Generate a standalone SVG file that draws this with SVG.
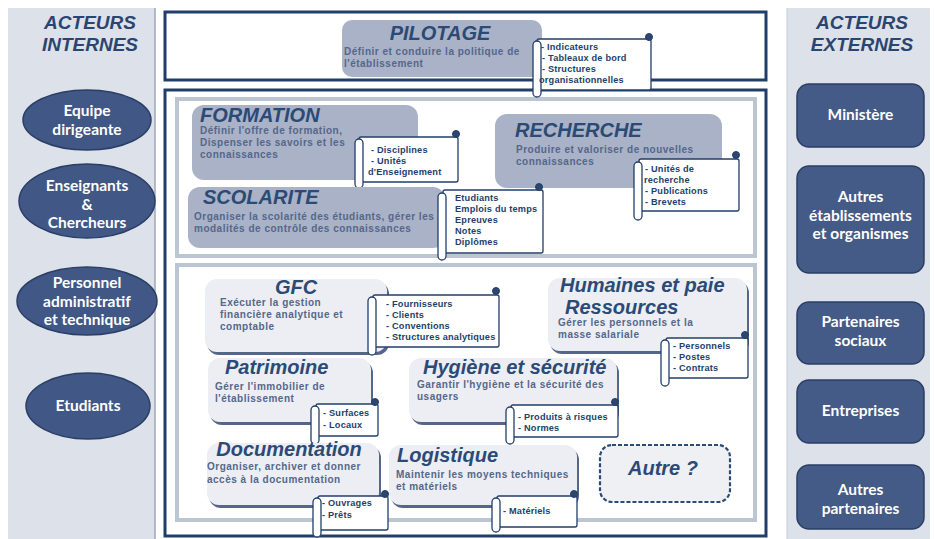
<svg xmlns="http://www.w3.org/2000/svg" width="934" height="539" viewBox="0 0 934 539">
<style>
.panel{fill:#dde1ea}
.actor-t{font-family:"Liberation Sans",Arial,sans-serif;font-weight:bold;font-style:italic;font-size:19px;fill:#2a4670;text-anchor:middle}
.oval{fill:#415785;stroke:#2b3e66;stroke-width:1.5}
.ebox{fill:#445a87;stroke:#2b3e66;stroke-width:1.5}
.wl{font-family:Lato,"Open Sans",sans-serif;font-weight:bold;font-size:15.5px;fill:#ffffff;text-anchor:middle}
.frame{fill:#ffffff;stroke:#203e68;stroke-width:3}
.sect{fill:#ffffff;stroke:#bcc6d3;stroke-width:4}
.up{fill:#a9b2c7}
.low{fill:#eceef3}
.shd{fill:#56668a}
.ttl{font-family:"Liberation Sans",Arial,sans-serif;font-weight:bold;font-style:italic;font-size:20px;fill:#2b4a76}
.bt{font-family:"Liberation Sans",Arial,sans-serif;font-weight:bold;font-size:10px;letter-spacing:0.5px;fill:#55678a}
.scr{fill:#ffffff;stroke:#233f69;stroke-width:1.3}
.curl{fill:#2d4670;stroke:#233f69;stroke-width:1}
.st{font-family:"Liberation Sans",Arial,sans-serif;font-weight:bold;font-size:9.2px;letter-spacing:0.2px;fill:#243f6a}
.dash{fill:#eef0f4;stroke:#2b4a76;stroke-width:2.2;stroke-dasharray:4 2}
</style>

<!-- side panels -->
<rect class="panel" x="8" y="8" width="147" height="531"/>
<line x1="155" y1="8" x2="155" y2="539" stroke="#9ea9bb" stroke-width="1.5"/>
<rect class="panel" x="787" y="8" width="143" height="531"/>
<line x1="787" y1="8" x2="787" y2="539" stroke="#c4cad6" stroke-width="1"/>

<text class="actor-t" x="90" y="29">ACTEURS</text>
<text class="actor-t" x="90" y="51">INTERNES</text>
<text class="actor-t" x="862" y="29">ACTEURS</text>
<text class="actor-t" x="862" y="51">EXTERNES</text>

<g id="equipe-dirigeante">
<ellipse class="oval" cx="87" cy="120" rx="64" ry="30"/>
<text class="wl" x="87" y="116">Equipe</text>
<text class="wl" x="87" y="134.6">dirigeante</text>
</g>
<g id="enseignants-chercheurs">
<ellipse class="oval" cx="87" cy="201" rx="68" ry="37"/>
<text class="wl" x="87" y="191">Enseignants</text>
<text class="wl" x="87" y="209.6">&amp;</text>
<text class="wl" x="87" y="228.2">Chercheurs</text>
</g>
<g id="personnel-admin">
<ellipse class="oval" cx="87" cy="301" rx="70" ry="34"/>
<text class="wl" x="87" y="288">Personnel</text>
<text class="wl" x="87" y="306.6">administratif</text>
<text class="wl" x="87" y="325.2">et technique</text>
</g>
<g id="etudiants">
<ellipse class="oval" cx="88" cy="406" rx="62" ry="33"/>
<text class="wl" x="88" y="411">Etudiants</text>
</g>

<g id="ministere">
<rect class="ebox" x="797" y="84" width="127" height="63" rx="12"/>
<text class="wl" x="860.5" y="120">Ministère</text>
</g>
<g id="autres-etablissements">
<rect class="ebox" x="797" y="166" width="127" height="107" rx="12"/>
<text class="wl" x="860.5" y="202">Autres</text>
<text class="wl" x="860.5" y="220.6">établissements</text>
<text class="wl" x="860.5" y="239.2">et organismes</text>
</g>
<g id="partenaires-sociaux">
<rect class="ebox" x="797" y="302" width="127" height="62" rx="12"/>
<text class="wl" x="860.5" y="327">Partenaires</text>
<text class="wl" x="860.5" y="345.6">sociaux</text>
</g>
<g id="entreprises">
<rect class="ebox" x="797" y="380" width="127" height="63" rx="12"/>
<text class="wl" x="860.5" y="416">Entreprises</text>
</g>
<g id="autres-partenaires">
<rect class="ebox" x="797" y="465" width="127" height="64" rx="12"/>
<text class="wl" x="860.5" y="495">Autres</text>
<text class="wl" x="860.5" y="513.6">partenaires</text>
</g>

<!-- frames -->
<rect class="frame" x="165" y="12" width="601" height="68"/>
<rect class="frame" x="165" y="90" width="601" height="446"/>
<rect class="sect" x="177" y="99" width="578" height="157"/>
<rect class="sect" x="177" y="265" width="578" height="255"/>

<g id="pilotage">
<rect class="up" x="342" y="20" width="200" height="57" rx="10"/>
<text class="ttl" x="440" y="40" text-anchor="middle">PILOTAGE</text>
<text class="bt" x="344" y="55" letter-spacing="0.45">Définir et conduire la politique de</text>
<text class="bt" x="344" y="67" letter-spacing="0.45">l'établissement</text>
<rect class="scr" x="537" y="39" width="114" height="51" rx="2"/>
<rect class="scr" x="533" y="41" width="8" height="56" rx="4"/>
<circle class="curl" cx="649" cy="37" r="3.5"/>
<text class="st" x="541" y="50">- Indicateurs</text>
<text class="st" x="542" y="61">- Tableaux de bord</text>
<text class="st" x="542" y="72">- Structures</text>
<text class="st" x="539" y="83">organisationnelles</text>
</g>

<g id="formation">
<rect class="up" x="192" y="105" width="226" height="75" rx="12"/>
<text class="ttl" x="200" y="122">FORMATION</text>
<text class="bt" x="200" y="134" letter-spacing="0.3">Définir l'offre de formation,</text>
<text class="bt" x="200" y="146" letter-spacing="0.3">Dispenser les savoirs et les</text>
<text class="bt" x="200" y="158" letter-spacing="0.3">connaissances</text>
<rect class="scr" x="359" y="137" width="99" height="45" rx="2"/>
<rect class="scr" x="355" y="139" width="8" height="49" rx="4"/>
<circle class="curl" cx="456" cy="134" r="3.5"/>
<text class="st" x="371" y="153">- Disciplines</text>
<text class="st" x="371" y="164">- Unités</text>
<text class="st" x="368" y="175">d'Enseignement</text>
</g>

<g id="recherche">
<rect class="up" x="495" y="114" width="227" height="74" rx="12"/>
<text class="ttl" x="515" y="137">RECHERCHE</text>
<text class="bt" x="516" y="153" font-size="11" letter-spacing="0.9">Produire et valoriser de nouvelles</text>
<text class="bt" x="516" y="165" font-size="11" letter-spacing="0.9">connaissances</text>
<rect class="scr" x="639" y="159" width="100" height="52" rx="2"/>
<rect class="scr" x="634" y="162" width="8" height="58" rx="4"/>
<circle class="curl" cx="736" cy="155" r="3.5"/>
<text class="st" x="645" y="172">- Unités de</text>
<text class="st" x="644" y="183">recherche</text>
<text class="st" x="645" y="194">- Publications</text>
<text class="st" x="645" y="205">- Brevets</text>
</g>

<g id="scolarite">
<rect class="up" x="188" y="187" width="257" height="61" rx="12"/>
<text class="ttl" x="203" y="204">SCOLARITE</text>
<text class="bt" x="194" y="220" letter-spacing="0.45">Organiser la scolarité des étudiants, gérer les</text>
<text class="bt" x="194" y="232" letter-spacing="0.45">modalités de contrôle des connaissances</text>
<rect class="scr" x="443" y="190" width="100" height="63" rx="2"/>
<rect class="scr" x="438" y="193" width="8" height="67" rx="4"/>
<circle class="curl" cx="539" cy="187" r="3.5"/>
<text class="st" x="455" y="201">Etudiants</text>
<text class="st" x="455" y="212">Emplois du temps</text>
<text class="st" x="455" y="223">Epreuves</text>
<text class="st" x="455" y="234">Notes</text>
<text class="st" x="455" y="245">Diplômes</text>
</g>

<g id="gfc">
<rect class="shd" x="207" y="282" width="182" height="73" rx="12"/>
<rect class="low" x="205" y="279" width="182" height="73" rx="12"/>
<text class="ttl" x="296" y="294" text-anchor="middle" font-size="21">GFC</text>
<text class="bt" x="220" y="306">Exécuter la gestion</text>
<text class="bt" x="220" y="318">financière analytique et</text>
<text class="bt" x="220" y="330">comptable</text>
<rect class="scr" x="373" y="295" width="126" height="52" rx="2"/>
<rect class="scr" x="368" y="297" width="8" height="58" rx="4"/>
<circle class="curl" cx="496" cy="291" r="3.5"/>
<text class="st" x="386" y="307">- Fournisseurs</text>
<text class="st" x="386" y="318">- Clients</text>
<text class="st" x="386" y="329">- Conventions</text>
<text class="st" x="386" y="340">- Structures analytiques</text>
</g>

<g id="ressources-humaines">
<rect class="shd" x="550" y="281" width="199" height="73" rx="12"/>
<rect class="low" x="548" y="278" width="199" height="73" rx="12"/>
<text class="ttl" x="560" y="292" font-size="18.5">Humaines et paie</text>
<text class="ttl" x="565" y="313.5" font-size="18.5">Ressources</text>
<text class="bt" x="558" y="326">Gérer les personnels et la</text>
<text class="bt" x="558" y="338">masse salariale</text>
<rect class="scr" x="666" y="338" width="82" height="40" rx="2"/>
<rect class="scr" x="661" y="340" width="8" height="46" rx="4"/>
<circle class="curl" cx="745" cy="335" r="3.5"/>
<text class="st" x="673" y="349">- Personnels</text>
<text class="st" x="673" y="360">- Postes</text>
<text class="st" x="673" y="371">- Contrats</text>
</g>

<g id="patrimoine">
<rect class="shd" x="210" y="361" width="163" height="64" rx="12"/>
<rect class="low" x="208" y="358" width="163" height="64" rx="12"/>
<text class="ttl" x="225" y="374" font-size="19.5">Patrimoine</text>
<text class="bt" x="215" y="390">Gérer l'immobilier de</text>
<text class="bt" x="215" y="402">l'établissement</text>
<rect class="scr" x="316" y="404" width="62" height="32" rx="2"/>
<rect class="scr" x="311" y="406" width="8" height="38" rx="4"/>
<circle class="curl" cx="375" cy="402" r="3.5"/>
<text class="st" x="323" y="416">- Surfaces</text>
<text class="st" x="323" y="428">- Locaux</text>
</g>

<g id="hygiene-securite">
<rect class="shd" x="411" y="361" width="208" height="64" rx="12"/>
<rect class="low" x="409" y="358" width="208" height="64" rx="12"/>
<text class="ttl" x="423" y="374" font-size="19.5">Hygiène et sécurité</text>
<text class="bt" x="417" y="388" letter-spacing="0.45">Garantir l'hygiène et la sécurité des</text>
<text class="bt" x="417" y="400" letter-spacing="0.45">usagers</text>
<rect class="scr" x="511" y="405" width="107" height="32" rx="2"/>
<rect class="scr" x="506" y="407" width="8" height="37" rx="4"/>
<circle class="curl" cx="615" cy="402" r="3.5"/>
<text class="st" x="518" y="420">- Produits à risques</text>
<text class="st" x="518" y="431">- Normes</text>
</g>

<g id="documentation">
<rect class="shd" x="209" y="446" width="172" height="62" rx="12"/>
<rect class="low" x="207" y="443" width="172" height="62" rx="12"/>
<text class="ttl" x="289" y="456" text-anchor="middle" font-size="19.5">Documentation</text>
<text class="bt" x="207" y="470" letter-spacing="0.45">Organiser, archiver et donner</text>
<text class="bt" x="207" y="483" letter-spacing="0.45">accès à la documentation</text>
<rect class="scr" x="318" y="496" width="70" height="34" rx="2"/>
<rect class="scr" x="313" y="498" width="8" height="39" rx="4"/>
<circle class="curl" cx="385" cy="494" r="3.5"/>
<text class="st" x="322" y="506">- Ouvrages</text>
<text class="st" x="322" y="518">- Prêts</text>
</g>

<g id="logistique">
<rect class="shd" x="391" y="448" width="188" height="60" rx="12"/>
<rect class="low" x="389" y="445" width="188" height="60" rx="12"/>
<text class="ttl" x="397" y="462" font-size="19.5">Logistique</text>
<text class="bt" x="396" y="478" letter-spacing="0.55">Maintenir les moyens techniques</text>
<text class="bt" x="396" y="490" letter-spacing="0.55">et matériels</text>
<rect class="scr" x="497" y="496" width="80" height="31" rx="2"/>
<rect class="scr" x="492" y="498" width="8" height="34" rx="4"/>
<circle class="curl" cx="574" cy="494" r="3.5"/>
<text class="st" x="503" y="514">- Matériels</text>
</g>

<g id="autre">
<rect class="dash" x="600" y="445" width="130" height="57" rx="12"/>
<text class="ttl" x="663" y="475" text-anchor="middle">Autre ?</text>
</g>

<g id="connectors"></g>
</svg>
